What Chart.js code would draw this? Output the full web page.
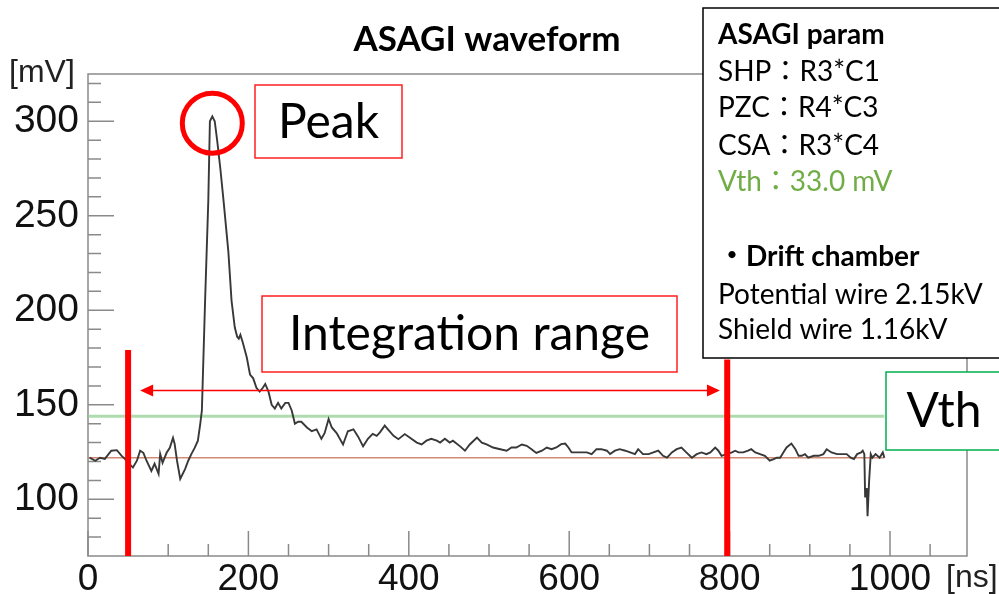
<!DOCTYPE html>
<html>
<head>
<meta charset="utf-8">
<script src="https://cdn.jsdelivr.net/npm/chart.js@4.4.1/dist/chart.umd.min.js"></script>
<style>
  body { margin: 0; background: #fff; }
  #wrap { width: 999px; height: 594px; }
</style>
</head>
<body>
<div id="wrap"><canvas id="wave" width="999" height="594"></canvas></div>
<script>
// waveform: time [ns] and amplitude [mV]
const timeNs = [
  2, 9, 15, 21, 29, 36, 42, 46, 51, 56, 61, 65, 69, 73, 79, 83, 88, 90, 93, 98,
  102, 106, 108, 111, 115, 121, 125, 129, 133, 137, 140, 142, 146, 150, 152, 155, 158, 161, 165, 169,
  175, 179, 183, 186, 188, 190, 193, 198, 202, 206, 210, 214, 218, 221, 225, 229, 233, 237, 241, 246,
  250, 254, 258, 262, 266, 273, 279, 285, 291, 295, 300, 304, 310, 318, 324, 331, 337, 343, 349, 355,
  360, 364, 370, 374, 381, 387, 395, 401, 410, 416, 422, 428, 435, 439, 445, 451, 455, 464, 470, 476,
  485, 491, 497, 505, 514, 522, 528, 534, 541, 547, 553, 559, 566, 572, 578, 584, 590, 595, 599, 603,
  609, 616, 622, 628, 634, 640, 647, 651, 657, 663, 670, 676, 682, 686, 692, 699, 705, 711, 717, 722,
  728, 734, 740, 746, 753, 759, 765, 771, 776, 782, 786, 790, 797, 803, 807, 811, 817, 823, 827, 832,
  838, 844, 850, 855, 859, 863, 867, 871, 877, 882, 886, 890, 894, 898, 905, 911, 917, 921, 927, 934,
  940, 946, 951, 955, 959, 964, 966, 968, 969, 971, 972, 974, 976, 978, 982, 987, 991, 993
];
const voltMv = [
  122, 120.4, 122, 121.4, 125.7, 126, 123, 121.4, 119, 116.8, 120.4, 125.7, 124.6, 120.4, 115, 118.8, 113.5, 124, 119.3, 124.6,
  127.2, 132.5, 129.4, 120.4, 110.8, 116, 120.4, 124, 127.2, 131, 140, 147, 205, 258, 300, 302.6, 300, 290, 275, 258,
  231, 205, 191, 186, 185, 187, 183, 175, 166, 164, 159, 157, 159, 161, 157, 150, 148, 151, 148, 151,
  151, 147, 140, 141, 141, 138, 136, 137, 132, 135, 142.5, 138, 135, 129, 136, 137, 133, 128, 132, 134.6,
  133.6, 135.4, 139, 137, 133.6, 131.8, 134.5, 132.7, 130, 129, 131, 132, 131, 130, 132, 130, 131, 128, 125.7, 129,
  132.7, 130, 129, 127.4, 126.5, 125.7, 127.4, 127.4, 129, 128.3, 126.5, 124.5, 125.7, 127.4, 126.5, 127.4, 129.2, 129.5, 127.4, 124.8,
  124.8, 124.8, 124.8, 123.9, 126.5, 126.5, 125.7, 123.9, 125.7, 126.5, 125.7, 124.8, 123.9, 126.5, 123.9, 123.9, 124.8, 125.7, 123, 122,
  124.8, 126.5, 127.4, 124.8, 122, 123.9, 124.8, 123.9, 124.8, 127.4, 125.7, 123, 124, 124.8, 125.7, 124.8, 124.8, 125.7, 126.5, 124.8,
  123.9, 123, 120.4, 121.3, 122, 122, 124.8, 127.4, 129.5, 126.5, 123, 123, 123.9, 122, 123, 123, 123.9, 126.5, 124.8, 123.9,
  123.9, 123.9, 122, 121.3, 123.9, 124.8, 125.7, 123.9, 101, 106, 91, 110, 123.9, 122, 123.9, 122, 124.8, 122
];

const baselineMv = 122;     // pedestal line
const thresholdMv = 144;    // Vth line
const levelSpan = [0, 993];

// integration window markers [ns] and their top ends [mV]
const windowNs = [50, 797];
const windowTopMv = [179, 174];
const arrowSpan = [65, 788];
const arrowMv = 157.5;
const peakAt = [155, 299];

const xTicks = [0, 200, 400, 600, 800, 1000];
const yTicks = [100, 150, 200, 250, 300];

const paramLines = [
  ['ASAGI param', 'bold', '#000'],
  ['SHP：R3*C1', '', '#000'],
  ['PZC：R4*C3', '', '#000'],
  ['CSA：R3*C4', '', '#000'],
  ['Vth：33.0 mV', '', '#70ad47'],
  ['', '', '#000'],
  ['・Drift chamber', 'bold', '#000'],
  ['Potential wire 2.15kV', '', '#000'],
  ['Shield wire 1.16kV', '', '#000']
];

const TXT = 'Lato, "Noto Sans CJK JP", sans-serif';
const ROOTFONT = '"Liberation Sans", Arial, sans-serif';

function labelBox(ctx, x, y, w, h, color, text, size) {
  ctx.save();
  ctx.fillStyle = '#fff';
  ctx.fillRect(x, y, w, h);
  ctx.strokeStyle = color;
  ctx.lineWidth = 1.5;
  ctx.strokeRect(x, y, w, h);
  ctx.fillStyle = '#000';
  ctx.font = size + 'px ' + TXT;
  ctx.textAlign = 'center';
  ctx.textBaseline = 'middle';
  ctx.fillText(text, x + w / 2, y + h / 2 + 1);
  ctx.restore();
}

// ROOT style frame with ticks pointing inwards
const frame = {
  id: 'frame',
  beforeDatasetsDraw(chart) {
    const {ctx, chartArea: a, scales: {x, y}} = chart;
    ctx.save();
    ctx.strokeStyle = '#8a8a8a';
    ctx.lineWidth = 1.5;
    ctx.strokeRect(a.left, a.top, a.right - a.left, a.bottom - a.top);
    ctx.beginPath();
    for (let v = 0; v <= 1050; v += 50) {
      const px = x.getPixelForValue(v);
      const len = v % 200 === 0 ? 25 : 12;
      ctx.moveTo(px, a.bottom);
      ctx.lineTo(px, a.bottom - len);
    }
    for (let v = 80; v <= 320; v += 10) {
      const py = y.getPixelForValue(v);
      const len = v % 50 === 0 ? 26 : 13;
      ctx.moveTo(a.left, py);
      ctx.lineTo(a.left + len, py);
    }
    ctx.stroke();
    ctx.restore();
  }
};

const notes = {
  id: 'notes',
  afterDatasetsDraw(chart) {
    const {ctx, scales: {x, y}} = chart;
    ctx.save();

    // double arrow for the integration range
    const ay = y.getPixelForValue(arrowMv);
    const x0 = x.getPixelForValue(arrowSpan[0]);
    const x1 = x.getPixelForValue(arrowSpan[1]);
    ctx.strokeStyle = '#f00';
    ctx.fillStyle = '#f00';
    ctx.lineWidth = 1.5;
    ctx.beginPath();
    ctx.moveTo(x0 + 10, ay);
    ctx.lineTo(x1 - 10, ay);
    ctx.stroke();
    ctx.beginPath();
    ctx.moveTo(x0, ay); ctx.lineTo(x0 + 13, ay - 6); ctx.lineTo(x0 + 13, ay + 6); ctx.closePath();
    ctx.moveTo(x1, ay); ctx.lineTo(x1 - 13, ay - 6); ctx.lineTo(x1 - 13, ay + 6); ctx.closePath();
    ctx.fill();

    // circle around the peak
    ctx.lineWidth = 5;
    ctx.beginPath();
    ctx.arc(x.getPixelForValue(peakAt[0]), y.getPixelForValue(peakAt[1]), 30, 0, Math.PI * 2);
    ctx.stroke();
    ctx.restore();

    labelBox(ctx, 255, 85, 147, 73, '#ff2020', 'Peak', 48);
    labelBox(ctx, 262, 296, 415, 76, '#ff2020', 'Integration range', 48);
    // the Vth box is cut by the right border of the picture
    labelBox(ctx, 886, 372, 116, 78, '#00b050', 'Vth', 48);

    // parameter box
    ctx.save();
    ctx.fillStyle = '#fff';
    ctx.fillRect(703, 8, 310, 350);
    ctx.strokeStyle = '#000';
    ctx.lineWidth = 1.5;
    ctx.strokeRect(703, 8, 310, 350);
    ctx.textBaseline = 'middle';
    const rows = [35, 72, 108, 146, 182, 220, 257, 295, 330];
    paramLines.forEach((l, i) => {
      ctx.font = (l[1] ? 'bold ' : '') + '28px ' + TXT;
      ctx.fillStyle = l[2];
      ctx.fillText(l[0], 718, rows[i]);
    });

    // title and axis units
    ctx.fillStyle = '#000';
    ctx.font = 'bold 35px ' + TXT;
    ctx.textAlign = 'center';
    ctx.fillText('ASAGI waveform', 487, 40);
    ctx.fillStyle = '#222';
    ctx.font = '32px ' + ROOTFONT;
    ctx.textAlign = 'left';
    ctx.fillText('[mV]', 9, 73);
    ctx.fillText('[ns]', 946, 578);
    ctx.restore();
  }
};

const wave = timeNs.map((t, i) => ({x: t, y: voltMv[i]}));
const level = v => levelSpan.map(t => ({x: t, y: v}));

new Chart(document.getElementById('wave'), {
  type: 'line',
  data: {
    datasets: [
      {data: [{x: windowNs[0], y: 70}, {x: windowNs[0], y: windowTopMv[0]}], borderColor: '#f00', borderWidth: 6, order: 0},
      {data: [{x: windowNs[1], y: 70}, {x: windowNs[1], y: windowTopMv[1]}], borderColor: '#f00', borderWidth: 6, order: 0},
      {data: wave, borderColor: '#383838', borderWidth: 1.9, order: 1},
      {data: level(baselineMv), borderColor: 'rgba(205,125,100,0.9)', borderWidth: 1.5, order: 2},
      {data: level(thresholdMv), borderColor: 'rgba(140,205,140,0.7)', borderWidth: 3, order: 3}
    ]
  },
  options: {
    responsive: false,
    animation: false,
    devicePixelRatio: 1,
    layout: {padding: {left: 0, top: 74, right: 32, bottom: 0}},
    elements: {point: {radius: 0}, line: {tension: 0}},
    plugins: {legend: {display: false}, tooltip: {enabled: false}},
    scales: {
      x: {
        type: 'linear', min: 0, max: 1096,
        border: {display: false},
        grid: {display: false, drawTicks: false},
        afterFit: s => { s.height = 38; },
        afterBuildTicks: s => { s.ticks = xTicks.map(v => ({value: v})); },
        ticks: {padding: 2, color: '#111', font: {family: ROOTFONT, size: 37}, maxRotation: 0, autoSkip: false,
                callback: v => String(v)}
      },
      y: {
        type: 'linear', min: 70, max: 325,
        border: {display: false},
        grid: {display: false, drawTicks: false},
        afterFit: s => { s.width = 88; },
        afterBuildTicks: s => { s.ticks = yTicks.map(v => ({value: v})); },
        ticks: {padding: 9, color: '#111', font: {family: ROOTFONT, size: 39}, callback: v => String(v)}
      }
    }
  },
  plugins: [frame, notes]
});
</script>
</body>
</html>
